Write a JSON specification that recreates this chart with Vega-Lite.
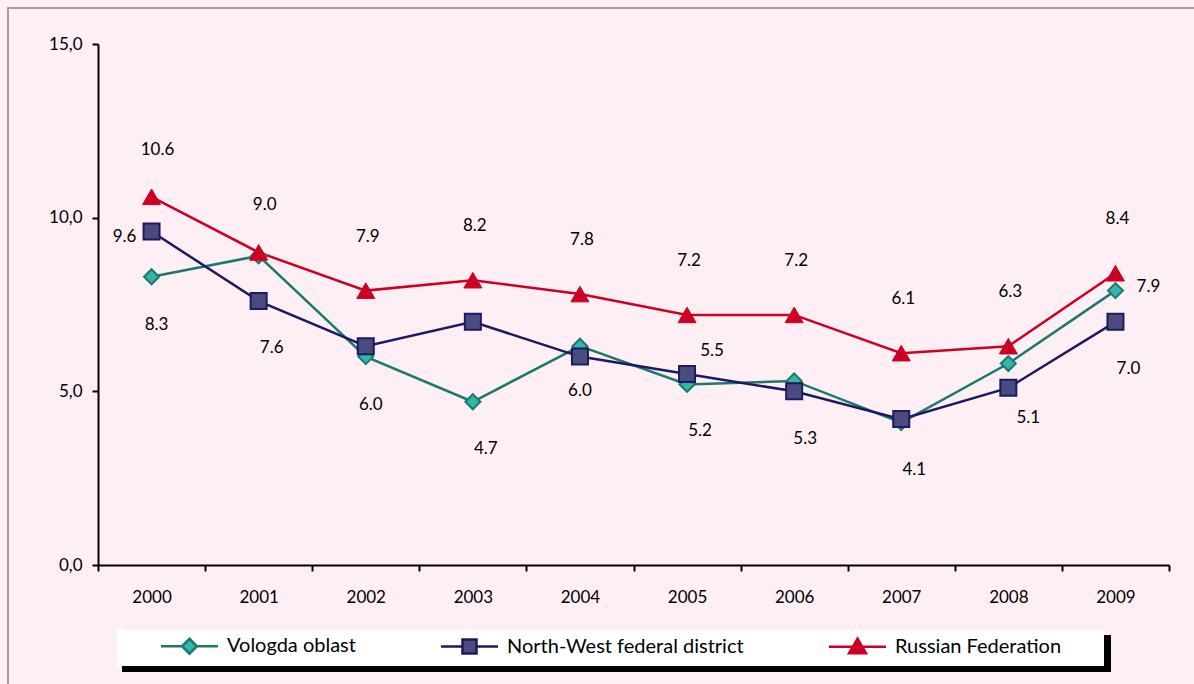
{
  "$schema": "https://vega.github.io/schema/vega-lite/v6.json",
  "width": 1190,
  "height": 680,
  "autosize": {"type": "none"},
  "padding": {"left": 8, "top": 8, "right": -4, "bottom": -4},
  "background": "#FDEFF4",
  "config": {
    "font": "Lato",
    "view": {"stroke": "#A0A0A0", "strokeWidth": 2},
    "legend": {
      "direction": "horizontal",
      "labelFont": "Lato",
      "labelFontSize": 20,
      "labelColor": "black",
      "labelLimit": 400,
      "symbolStrokeWidth": 2.5,
      "symbolFillColor": "#000000",
      "symbolStrokeColor": "#000000"
    }
  },
  "data": {
    "values": [
      {"year": "2000", "series": "Vologda oblast", "value": 8.3},
      {"year": "2001", "series": "Vologda oblast", "value": 8.9},
      {"year": "2002", "series": "Vologda oblast", "value": 6.0},
      {"year": "2003", "series": "Vologda oblast", "value": 4.7},
      {"year": "2004", "series": "Vologda oblast", "value": 6.3},
      {"year": "2005", "series": "Vologda oblast", "value": 5.2},
      {"year": "2006", "series": "Vologda oblast", "value": 5.3},
      {"year": "2007", "series": "Vologda oblast", "value": 4.1},
      {"year": "2008", "series": "Vologda oblast", "value": 5.8},
      {"year": "2009", "series": "Vologda oblast", "value": 7.9},
      {"year": "2000", "series": "North-West federal district", "value": 9.6},
      {"year": "2001", "series": "North-West federal district", "value": 7.6},
      {"year": "2002", "series": "North-West federal district", "value": 6.3},
      {"year": "2003", "series": "North-West federal district", "value": 7.0},
      {"year": "2004", "series": "North-West federal district", "value": 6.0},
      {"year": "2005", "series": "North-West federal district", "value": 5.5},
      {"year": "2006", "series": "North-West federal district", "value": 5.0},
      {"year": "2007", "series": "North-West federal district", "value": 4.2},
      {"year": "2008", "series": "North-West federal district", "value": 5.1},
      {"year": "2009", "series": "North-West federal district", "value": 7.0},
      {"year": "2000", "series": "Russian Federation", "value": 10.6},
      {"year": "2001", "series": "Russian Federation", "value": 9.0},
      {"year": "2002", "series": "Russian Federation", "value": 7.9},
      {"year": "2003", "series": "Russian Federation", "value": 8.2},
      {"year": "2004", "series": "Russian Federation", "value": 7.8},
      {"year": "2005", "series": "Russian Federation", "value": 7.2},
      {"year": "2006", "series": "Russian Federation", "value": 7.2},
      {"year": "2007", "series": "Russian Federation", "value": 6.1},
      {"year": "2008", "series": "Russian Federation", "value": 6.3},
      {"year": "2009", "series": "Russian Federation", "value": 8.4}
    ]
  },
  "encoding": {
    "x": {
      "field": "year",
      "type": "ordinal",
      "bandPosition": 0.5,
      "scale": {"type": "band", "range": [90, 1161], "paddingInner": 0, "paddingOuter": 0},
      "axis": {
        "orient": "bottom",
        "offset": -123,
        "title": null,
        "labelAngle": 0,
        "tickBand": "extent",
        "domainColor": "black",
        "domainWidth": 2,
        "tickColor": "black",
        "tickWidth": 2,
        "tickSize": 6,
        "labelPadding": 18,
        "labelFont": "Lato",
        "labelFontSize": 17,
        "labelColor": "black",
        "grid": false
      }
    },
    "y": {
      "field": "value",
      "type": "quantitative",
      "scale": {"domain": [0, 15], "range": [557, 36], "nice": false, "zero": true},
      "axis": {
        "orient": "left",
        "offset": -90,
        "title": null,
        "values": [0, 5, 10, 15],
        "labelExpr": "replace(format(datum.value, '.1f'), '.', ',')",
        "grid": false,
        "domainColor": "black",
        "domainWidth": 2,
        "tickColor": "black",
        "tickWidth": 2,
        "tickSize": 6,
        "labelPadding": 10,
        "labelFont": "Lato",
        "labelFontSize": 17,
        "labelColor": "black"
      }
    }
  },
  "layer": [
    {
      "transform": [{"filter": "datum.value < 0"}],
      "mark": {"type": "point", "filled": true, "opacity": 1, "strokeWidth": 2.5},
      "encoding": {
        "fill": {"field": "series", "type": "nominal",
          "scale": {"domain": ["Vologda oblast", "North-West federal district", "Russian Federation"], "range": ["#33B5A8", "#4A4C80", "#CC0022"]},
          "legend": {"orient": "none", "legendX": 148, "legendY": 628, "padding": 0, "columns": 3, "columnPadding": 80, "labelOffset": 51, "symbolSize": 100, "title": null, "zindex": 2}},
        "stroke": {"field": "series", "type": "nominal",
          "scale": {"domain": ["Vologda oblast", "North-West federal district", "Russian Federation"], "range": ["#1B7A6B", "#1C1A60", "#CC0022"]},
          "legend": {"orient": "none", "legendX": 148, "legendY": 628, "padding": 0, "columns": 3, "columnPadding": 80, "labelOffset": 51, "symbolSize": 100, "title": null, "zindex": 2}},
        "shape": {"field": "series", "type": "nominal",
          "scale": {"domain": ["Vologda oblast", "North-West federal district", "Russian Federation"],
            "range": [
              "M-1,0H3.2M6.2,0H10.4M4.7,-1.5L6.2,0L4.7,1.5L3.2,0Z",
              "M-1,0H3.3M6.1,0H10.4M3.3,-1.4H6.1V1.4H3.3Z",
              "M-1,0H3.76M5.64,0H10.4M4.7,-1.6L6.4,1.3L3.0,1.3Z"
            ]},
          "legend": {"orient": "none", "legendX": 148, "legendY": 628, "padding": 0, "columns": 3, "columnPadding": 80, "labelOffset": 51, "symbolSize": 100, "title": null, "zindex": 2}}
      }
    },
    {
      "transform": [{"filter": "datum.value < 0"}],
      "mark": {"type": "point", "filled": true, "opacity": 1, "fill": "white", "stroke": "#999999", "strokeWidth": 2},
      "encoding": {
        "opacity": {"field": "series", "type": "ordinal",
          "scale": {"domain": ["frame"], "range": [1]},
          "legend": {"orient": "none", "legendX": 99, "legendY": 612, "padding": 0, "title": null, "zindex": 1,
            "symbolType": "M0,0H987V36H0Z", "symbolSize": 4, "symbolStrokeWidth": 2,
            "symbolFillColor": "white", "symbolStrokeColor": "#999999", "labelExpr": "''", "labelOffset": 0}}
      }
    },
    {
      "transform": [{"filter": "datum.value < 0"}],
      "mark": {"type": "point", "filled": true, "opacity": 1, "fill": "black", "stroke": "black", "strokeWidth": 0},
      "encoding": {
        "strokeDash": {"field": "series", "type": "nominal",
          "scale": {"domain": ["shadow"], "range": [[1, 0]]},
          "legend": {"orient": "none", "legendX": 104, "legendY": 617, "padding": 0, "title": null, "zindex": 0,
            "symbolType": "M0,0H989V37H0Z", "symbolSize": 4, "symbolStrokeWidth": 0,
            "symbolFillColor": "black", "symbolStrokeColor": "black", "labelExpr": "''", "labelOffset": 0}}
      }
    },
    {
      "mark": {"type": "line", "strokeWidth": 2.5},
      "encoding": {
        "stroke": {"field": "series", "type": "nominal",
          "scale": {"domain": ["Vologda oblast", "North-West federal district", "Russian Federation"], "range": ["#1B7A6B", "#1C1A60", "#CC0022"]}},
        "detail": {"field": "series"}
      }
    },
    {
      "transform": [{"filter": "datum.series == 'Vologda oblast'"}],
      "mark": {"type": "point", "shape": "diamond", "filled": true, "size": 225, "opacity": 1, "strokeWidth": 2},
      "encoding": {
        "fill": {"field": "series", "type": "nominal",
          "scale": {"domain": ["Vologda oblast", "North-West federal district", "Russian Federation"], "range": ["#33B5A8", "#4A4C80", "#CC0022"]}},
        "stroke": {"field": "series", "type": "nominal",
          "scale": {"domain": ["Vologda oblast", "North-West federal district", "Russian Federation"], "range": ["#1B7A6B", "#1C1A60", "#CC0022"]}}
      }
    },
    {
      "transform": [{"filter": "datum.series == 'North-West federal district'"}],
      "mark": {"type": "point", "shape": "square", "filled": true, "size": 256, "opacity": 1, "strokeWidth": 2},
      "encoding": {
        "fill": {"field": "series", "type": "nominal",
          "scale": {"domain": ["Vologda oblast", "North-West federal district", "Russian Federation"], "range": ["#33B5A8", "#4A4C80", "#CC0022"]}},
        "stroke": {"field": "series", "type": "nominal",
          "scale": {"domain": ["Vologda oblast", "North-West federal district", "Russian Federation"], "range": ["#1B7A6B", "#1C1A60", "#CC0022"]}}
      }
    },
    {
      "transform": [{"filter": "datum.series == 'Russian Federation'"}],
      "mark": {"type": "point", "shape": "triangle-up", "filled": true, "size": 324, "opacity": 1, "strokeWidth": 1},
      "encoding": {
        "fill": {"field": "series", "type": "nominal",
          "scale": {"domain": ["Vologda oblast", "North-West federal district", "Russian Federation"], "range": ["#33B5A8", "#4A4C80", "#CC0022"]}},
        "stroke": {"field": "series", "type": "nominal",
          "scale": {"domain": ["Vologda oblast", "North-West federal district", "Russian Federation"], "range": ["#1B7A6B", "#1C1A60", "#CC0022"]}}
      }
    },
    {
      "transform": [{"filter": "datum.series == 'Russian Federation' && indexof(['2000', '2001'], datum.year) >= 0"}],
      "mark": {"type": "text", "font": "Lato", "fontSize": 17, "color": "black", "baseline": "middle", "align": "center", "dx": 6, "dy": -47},
      "encoding": {"text": {"field": "value", "type": "quantitative", "format": ".1f"}}
    },
    {
      "transform": [{"filter": "datum.series == 'Russian Federation' && indexof(['2000', '2001'], datum.year) < 0"}],
      "mark": {"type": "text", "font": "Lato", "fontSize": 17, "color": "black", "baseline": "middle", "align": "center", "dx": 2, "dy": -54},
      "encoding": {"text": {"field": "value", "type": "quantitative", "format": ".1f"}}
    },
    {
      "transform": [{"filter": "datum.series == 'Vologda oblast' && indexof(['2000', '2002'], datum.year) >= 0"}],
      "mark": {"type": "text", "font": "Lato", "fontSize": 17, "color": "black", "baseline": "middle", "align": "center", "dx": 5, "dy": 48},
      "encoding": {"text": {"field": "value", "type": "quantitative", "format": ".1f"}}
    },
    {
      "transform": [{"filter": "(datum.series == 'Vologda oblast' && indexof(['2003', '2005', '2007'], datum.year) >= 0) || (datum.series == 'North-West federal district' && indexof(['2001', '2009'], datum.year) >= 0)"}],
      "mark": {"type": "text", "font": "Lato", "fontSize": 17, "color": "black", "baseline": "middle", "align": "center", "dx": 13, "dy": 47},
      "encoding": {"text": {"field": "value", "type": "quantitative", "format": ".1f"}}
    },
    {
      "transform": [{"filter": "datum.series == 'Vologda oblast' && datum.year == '2006'"}],
      "mark": {"type": "text", "font": "Lato", "fontSize": 17, "color": "black", "baseline": "middle", "align": "center", "dx": 11, "dy": 58},
      "encoding": {"text": {"field": "value", "type": "quantitative", "format": ".1f"}}
    },
    {
      "transform": [{"filter": "datum.series == 'Vologda oblast' && datum.year == '2009'"}],
      "mark": {"type": "text", "font": "Lato", "fontSize": 17, "color": "black", "baseline": "middle", "align": "center", "dx": 33, "dy": -4},
      "encoding": {"text": {"field": "value", "type": "quantitative", "format": ".1f"}}
    },
    {
      "transform": [{"filter": "datum.series == 'North-West federal district' && datum.year == '2000'"}],
      "mark": {"type": "text", "font": "Lato", "fontSize": 17, "color": "black", "baseline": "middle", "align": "center", "dx": -27, "dy": 5},
      "encoding": {"text": {"field": "value", "type": "quantitative", "format": ".1f"}}
    },
    {
      "transform": [{"filter": "datum.series == 'North-West federal district' && datum.year == '2004'"}],
      "mark": {"type": "text", "font": "Lato", "fontSize": 17, "color": "black", "baseline": "middle", "align": "center", "dx": 0, "dy": 34},
      "encoding": {"text": {"field": "value", "type": "quantitative", "format": ".1f"}}
    },
    {
      "transform": [{"filter": "datum.series == 'North-West federal district' && datum.year == '2005'"}],
      "mark": {"type": "text", "font": "Lato", "fontSize": 17, "color": "black", "baseline": "middle", "align": "center", "dx": 25, "dy": -23},
      "encoding": {"text": {"field": "value", "type": "quantitative", "format": ".1f"}}
    },
    {
      "transform": [{"filter": "datum.series == 'North-West federal district' && datum.year == '2008'"}],
      "mark": {"type": "text", "font": "Lato", "fontSize": 17, "color": "black", "baseline": "middle", "align": "center", "dx": 20, "dy": 30},
      "encoding": {"text": {"field": "value", "type": "quantitative", "format": ".1f"}}
    }
  ]
}
